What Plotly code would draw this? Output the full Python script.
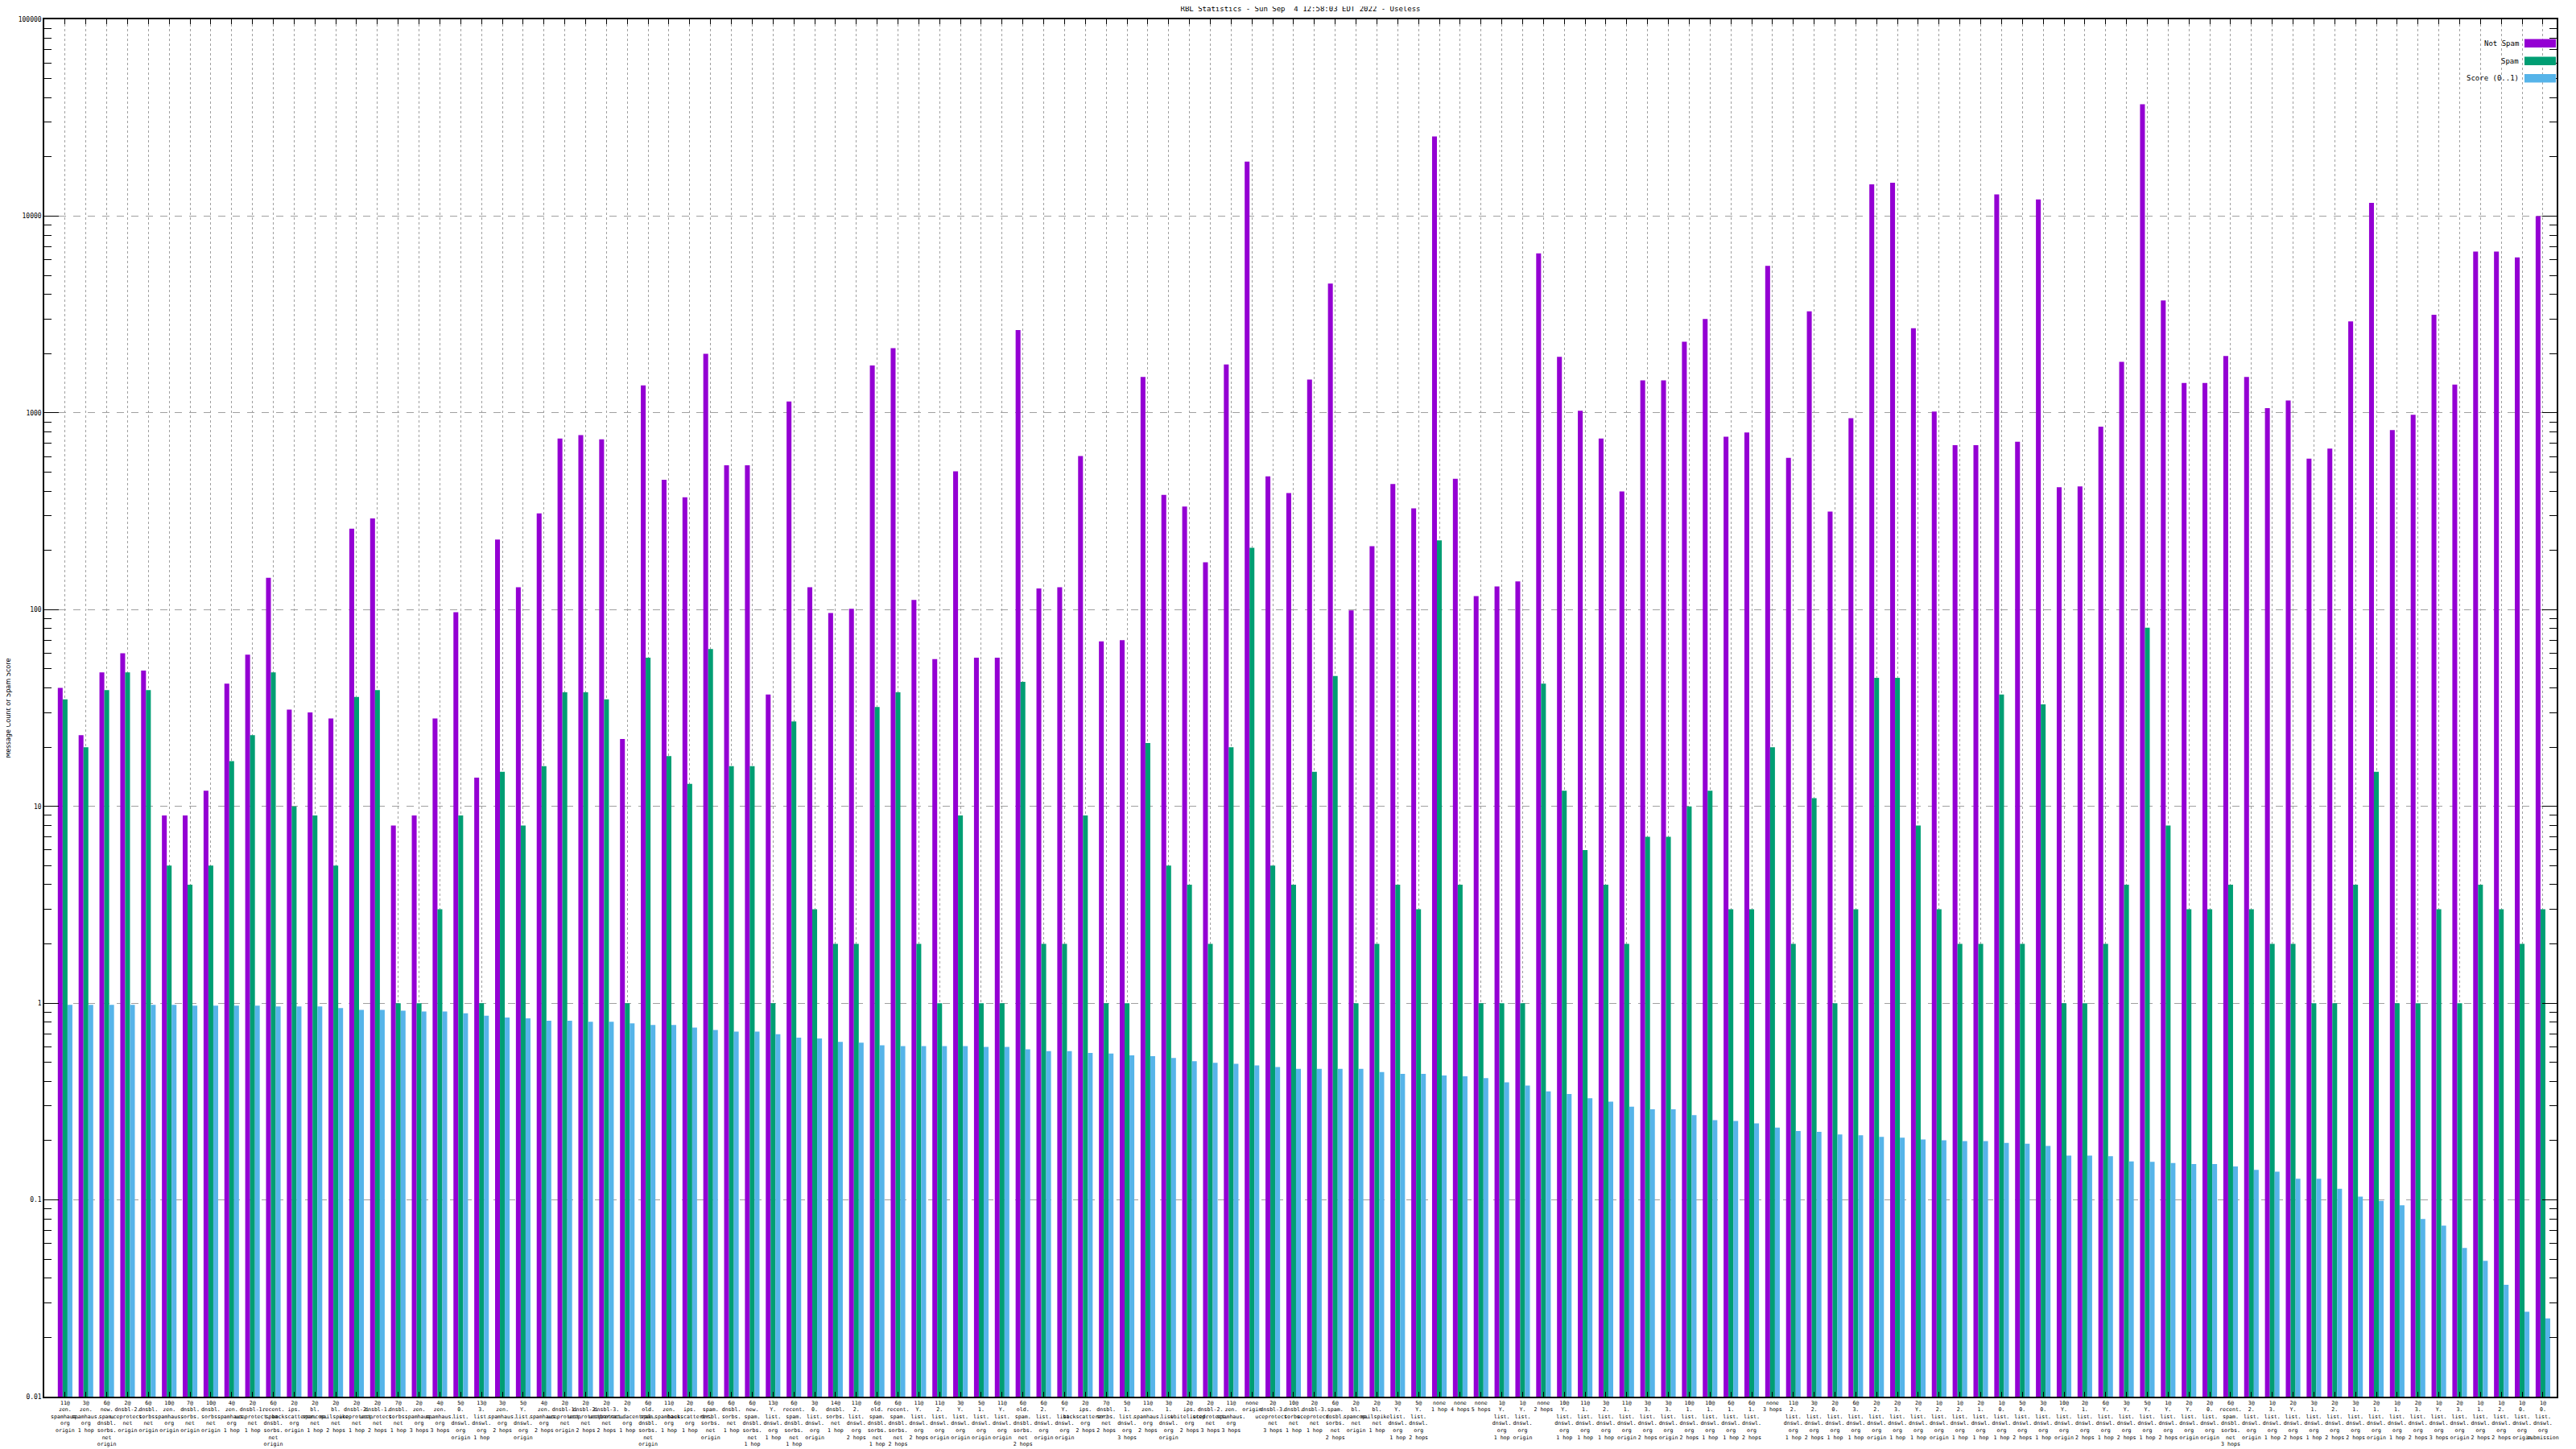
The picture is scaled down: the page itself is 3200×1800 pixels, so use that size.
import plotly.graph_objects as go

# ---------------- data ----------------
labels = [
    "11@\nzen.\nspamhaus.\norg\norigin", "3@\nzen.\nspamhaus.\norg\n1 hop",
    "6@\nnew.\nspam.\ndnsbl.\nsorbs.\nnet\norigin", "2@\ndnsbl-2.\nuceprotect.\nnet\norigin",
    "6@\ndnsbl.\nsorbs.\nnet\norigin", "10@\nzen.\nspamhaus.\norg\norigin",
    "7@\ndnsbl.\nsorbs.\nnet\norigin", "10@\ndnsbl.\nsorbs.\nnet\norigin",
    "4@\nzen.\nspamhaus.\norg\n1 hop", "2@\ndnsbl-1.\nuceprotect.\nnet\n1 hop",
    "6@\nrecent.\nspam.\ndnsbl.\nsorbs.\nnet\norigin", "2@\nips.\nbackscatterer.\norg\norigin",
    "2@\nbl.\nspamcop.\nnet\n1 hop", "2@\nbl.\nmailspike.\nnet\n2 hops",
    "2@\ndnsbl-2.\nuceprotect.\nnet\n1 hop", "2@\ndnsbl-1.\nuceprotect.\nnet\n2 hops",
    "7@\ndnsbl.\nsorbs.\nnet\n1 hop", "2@\nzen.\nspamhaus.\norg\n3 hops",
    "4@\nzen.\nspamhaus.\norg\n3 hops", "5@\n0.\nlist.\ndnswl.\norg\norigin",
    "13@\n3.\nlist.\ndnswl.\norg\n1 hop", "3@\nzen.\nspamhaus.\norg\n2 hops",
    "5@\nY.\nlist.\ndnswl.\norg\norigin", "4@\nzen.\nspamhaus.\norg\n2 hops",
    "2@\ndnsbl-1.\nuceprotect.\nnet\norigin", "2@\ndnsbl-2.\nuceprotect.\nnet\n2 hops",
    "2@\ndnsbl-3.\nuceprotect.\nnet\n2 hops", "2@\nb.\nbarracudacentral.\norg\n1 hop",
    "6@\nold.\nspam.\ndnsbl.\nsorbs.\nnet\norigin", "11@\nzen.\nspamhaus.\norg\n1 hop",
    "2@\nips.\nbackscatterer.\norg\n1 hop", "6@\nspam.\ndnsbl.\nsorbs.\nnet\norigin",
    "6@\ndnsbl.\nsorbs.\nnet\n1 hop", "6@\nnew.\nspam.\ndnsbl.\nsorbs.\nnet\n1 hop",
    "13@\nY.\nlist.\ndnswl.\norg\n1 hop", "6@\nrecent.\nspam.\ndnsbl.\nsorbs.\nnet\n1 hop",
    "3@\n0.\nlist.\ndnswl.\norg\norigin", "14@\ndnsbl.\nsorbs.\nnet\n1 hop",
    "11@\n2.\nlist.\ndnswl.\norg\n2 hops", "6@\nold.\nspam.\ndnsbl.\nsorbs.\nnet\n1 hop",
    "6@\nrecent.\nspam.\ndnsbl.\nsorbs.\nnet\n2 hops", "11@\nY.\nlist.\ndnswl.\norg\n2 hops",
    "11@\n2.\nlist.\ndnswl.\norg\norigin", "3@\nY.\nlist.\ndnswl.\norg\norigin",
    "5@\n1.\nlist.\ndnswl.\norg\norigin", "11@\nY.\nlist.\ndnswl.\norg\norigin",
    "6@\nold.\nspam.\ndnsbl.\nsorbs.\nnet\n2 hops", "6@\n2.\nlist.\ndnswl.\norg\norigin",
    "6@\nY.\nlist.\ndnswl.\norg\norigin", "2@\nips.\nbackscatterer.\norg\n2 hops",
    "7@\ndnsbl.\nsorbs.\nnet\n2 hops", "5@\n1.\nlist.\ndnswl.\norg\n3 hops",
    "11@\nzen.\nspamhaus.\norg\n2 hops", "3@\n1.\nlist.\ndnswl.\norg\norigin",
    "2@\nips.\nwhitelisted.\norg\n2 hops", "2@\ndnsbl-2.\nuceprotect.\nnet\n3 hops",
    "11@\nzen.\nspamhaus.\norg\n3 hops", "none\norigin",
    "2@\ndnsbl-3.\nuceprotect.\nnet\n3 hops", "10@\ndnsbl.\nsorbs.\nnet\n1 hop",
    "2@\ndnsbl-3.\nuceprotect.\nnet\n1 hop", "6@\nspam.\ndnsbl.\nsorbs.\nnet\n2 hops",
    "2@\nbl.\nspamcop.\nnet\norigin", "2@\nbl.\nmailspike.\nnet\n1 hop",
    "3@\nY.\nlist.\ndnswl.\norg\n1 hop", "5@\nY.\nlist.\ndnswl.\norg\n2 hops",
    "none\n1 hop", "none\n4 hops",
    "none\n5 hops", "1@\nY.\nlist.\ndnswl.\norg\n1 hop",
    "1@\nY.\nlist.\ndnswl.\norg\norigin", "none\n2 hops",
    "10@\nY.\nlist.\ndnswl.\norg\n1 hop", "11@\n1.\nlist.\ndnswl.\norg\n1 hop",
    "3@\n2.\nlist.\ndnswl.\norg\n1 hop", "11@\n1.\nlist.\ndnswl.\norg\norigin",
    "3@\n3.\nlist.\ndnswl.\norg\n2 hops", "3@\n3.\nlist.\ndnswl.\norg\norigin",
    "10@\n1.\nlist.\ndnswl.\norg\n2 hops", "10@\n1.\nlist.\ndnswl.\norg\n1 hop",
    "6@\n1.\nlist.\ndnswl.\norg\n1 hop", "6@\n1.\nlist.\ndnswl.\norg\n2 hops",
    "none\n3 hops", "11@\n2.\nlist.\ndnswl.\norg\n1 hop",
    "3@\n2.\nlist.\ndnswl.\norg\n2 hops", "2@\n0.\nlist.\ndnswl.\norg\n1 hop",
    "6@\n3.\nlist.\ndnswl.\norg\n1 hop", "2@\n2.\nlist.\ndnswl.\norg\norigin",
    "2@\n3.\nlist.\ndnswl.\norg\n1 hop", "2@\nY.\nlist.\ndnswl.\norg\n1 hop",
    "1@\n2.\nlist.\ndnswl.\norg\norigin", "1@\n2.\nlist.\ndnswl.\norg\n1 hop",
    "2@\n1.\nlist.\ndnswl.\norg\n1 hop", "1@\n0.\nlist.\ndnswl.\norg\n1 hop",
    "5@\n0.\nlist.\ndnswl.\norg\n2 hops", "3@\n0.\nlist.\ndnswl.\norg\n1 hop",
    "10@\nY.\nlist.\ndnswl.\norg\norigin", "2@\n1.\nlist.\ndnswl.\norg\n2 hops",
    "6@\nY.\nlist.\ndnswl.\norg\n1 hop", "3@\nY.\nlist.\ndnswl.\norg\n2 hops",
    "5@\nY.\nlist.\ndnswl.\norg\n1 hop", "1@\nY.\nlist.\ndnswl.\norg\n2 hops",
    "2@\nY.\nlist.\ndnswl.\norg\norigin", "2@\n0.\nlist.\ndnswl.\norg\norigin",
    "6@\nrecent.\nspam.\ndnsbl.\nsorbs.\nnet\n3 hops", "3@\n2.\nlist.\ndnswl.\norg\norigin",
    "1@\n3.\nlist.\ndnswl.\norg\n1 hop", "2@\nY.\nlist.\ndnswl.\norg\n2 hops",
    "3@\n1.\nlist.\ndnswl.\norg\n1 hop", "2@\n2.\nlist.\ndnswl.\norg\n2 hops",
    "3@\n1.\nlist.\ndnswl.\norg\n2 hops", "2@\n1.\nlist.\ndnswl.\norg\norigin",
    "1@\n1.\nlist.\ndnswl.\norg\n1 hop", "2@\n3.\nlist.\ndnswl.\norg\n2 hops",
    "1@\nY.\nlist.\ndnswl.\norg\n3 hops", "2@\n3.\nlist.\ndnswl.\norg\norigin",
    "1@\n1.\nlist.\ndnswl.\norg\n2 hops", "1@\n2.\nlist.\ndnswl.\norg\n2 hops",
    "1@\n0.\nlist.\ndnswl.\norg\norigin", "1@\n0.\nlist.\ndnswl.\norg\nsubmission",
]

not_spam = [
    40, 23, 48, 60, 49, 9, 9, 12, 42, 59,
    145, 31, 30, 28, 258, 291, 8, 9, 28, 97,
    14, 227, 130, 308, 741, 771, 734, 22, 1378, 457,
    372, 1997, 541, 541, 37, 1143, 130, 96, 101, 1742,
    2133, 112, 56, 505, 57, 57, 2637, 128, 130, 603,
    69, 70, 1521, 383, 334, 174, 1763, 18920, 476, 391,
    1477, 4540, 99, 210, 435, 327, 25420, 462, 117, 131,
    139, 6470, 1928, 1026, 741, 399, 1463, 1463, 2300, 3000,
    756, 795, 5580, 591, 3280, 315, 939, 14500, 14790, 2693,
    1016, 685, 685, 12890, 713, 12160, 419, 423, 851, 1816,
    37000, 3727, 1420, 1420, 1946, 1521, 1057, 1155, 585, 659,
    2914, 11680, 818, 977, 3155, 1392, 6600, 6600, 6160, 10000,
]

spam = [
    35, 20, 39, 48, 39, 5, 4, 5, 17, 23,
    48, 10, 9, 5, 36, 39, 1, 1, 3, 9,
    1, 15, 8, 16, 38, 38, 35, 1, 57, 18,
    13, 63, 16, 16, 1, 27, 3, 2, 2, 32,
    38, 2, 1, 9, 1, 1, 43, 2, 2, 9,
    1, 1, 21, 5, 4, 2, 20, 206, 5, 4,
    15, 46, 1, 2, 4, 3, 225, 4, 1, 1,
    1, 42, 12, 6, 4, 2, 7, 7, 10, 12,
    3, 3, 20, 2, 11, 1, 3, 45, 45, 8,
    3, 2, 2, 37, 2, 33, 1, 1, 2, 4,
    81, 8, 3, 3, 4, 3, 2, 2, 1, 1,
    4, 15, 1, 1, 3, 1, 4, 3, 2, 3,
]

score = [
    0.980, 0.980, 0.980, 0.980, 0.980, 0.980, 0.971, 0.971, 0.971, 0.971,
    0.961, 0.961, 0.961, 0.943, 0.924, 0.924, 0.915, 0.906, 0.906, 0.889,
    0.863, 0.846, 0.838, 0.813, 0.813, 0.805, 0.805, 0.790, 0.774, 0.774,
    0.751, 0.730, 0.716, 0.716, 0.695, 0.668, 0.661, 0.636, 0.630, 0.611,
    0.605, 0.605, 0.605, 0.605, 0.599, 0.599, 0.582, 0.570, 0.570, 0.559,
    0.554, 0.543, 0.538, 0.527, 0.507, 0.497, 0.492, 0.483, 0.473, 0.464,
    0.464, 0.464, 0.464, 0.446, 0.437, 0.437, 0.429, 0.425, 0.416, 0.396,
    0.381, 0.356, 0.345, 0.329, 0.316, 0.298, 0.289, 0.289, 0.270, 0.254,
    0.252, 0.245, 0.233, 0.224, 0.222, 0.215, 0.213, 0.209, 0.207, 0.203,
    0.201, 0.199, 0.199, 0.195, 0.193, 0.188, 0.168, 0.168, 0.167, 0.157,
    0.156, 0.154, 0.152, 0.152, 0.148, 0.142, 0.139, 0.128, 0.128, 0.114,
    0.104, 0.099, 0.094, 0.080, 0.074, 0.057, 0.049, 0.037, 0.027, 0.025,
]

series_names = ["Not Spam", "Spam", "Score (0..1)"]
series_colors = ["#9400D3", "#009E73", "#56B4E9"]
y_tick_vals = [0.01, 0.1, 1, 10, 100, 1000, 10000, 100000]
y_tick_text = ["0.01", "0.1", "1", "10", "100", "1000", "10000", "100000"]
title_text = "RBL Statistics - Sun Sep  4 12:58:03 EDT 2022 - Useless"
y_title = "Message Count or Spam Score"

# ---------------- figure ----------------
OFF = 8  # default page body margin in the browser
W, H = 3200 - OFF, 1800 - OFF
L, R, T, B = 55 - OFF, 24, 24 - OFF, 65
PW, PH = W - L - R, H - T - B

def px_x(p):  # page pixel -> paper x
    return (p - OFF - L) / PW

def px_y(p):  # page pixel -> paper y
    return (H - B - (p - OFF)) / PH

MONO = "DejaVu Sans Mono"
x = list(range(len(labels)))
tick_text = [s.replace("\n", "<br>") for s in labels]

fig = go.Figure()
for name, vals, col in zip(series_names, [not_spam, spam, score], series_colors):
    fig.add_trace(go.Bar(x=x, y=vals, name=name, marker=dict(color=col, line=dict(width=0)),
                         showlegend=False))

minor_vals = []
for e in range(-2, 5):
    for m in range(2, 10):
        minor_vals.append(m * 10 ** e)

fig.update_layout(
    width=W, height=H,
    margin=dict(l=L, r=R, t=T, b=B, autoexpand=False),
    paper_bgcolor="white", plot_bgcolor="white",
    barmode="group", bargap=0.3, bargroupgap=0.0,
    font=dict(family=MONO, size=9, color="black"),
    title=dict(text=title_text, x=0.5, xref="paper", y=1 - (11 - OFF) / H, yref="container",
               yanchor="middle", font=dict(family=MONO, size=9, color="black")),
    xaxis=dict(
        range=[-1.0, len(labels) - 1 + 0.66],
        tickmode="array", tickvals=x, ticktext=tick_text, tickangle=0,
        tickfont=dict(family=MONO, size=6.6, color="black"),
        ticks="inside", ticklen=6, tickcolor="black",
        showgrid=True, gridcolor="#a0a0a0", griddash="dot", gridwidth=1,
        showline=True, linecolor="black", linewidth=1.5, mirror="ticks",
        zeroline=False,
    ),
    yaxis=dict(
        type="log", range=[-2, 5],
        tickmode="array", tickvals=y_tick_vals, ticktext=y_tick_text,
        tickfont=dict(family=MONO, size=8, color="black"),
        ticks="inside", ticklen=18, tickcolor="black",
        minor=dict(tickmode="array", tickvals=minor_vals, ticks="inside", ticklen=9,
                   tickcolor="black", showgrid=False),
        showgrid=True, gridcolor="#a0a0a0", griddash="dash", gridwidth=1,
        showline=True, linecolor="black", linewidth=1.5, mirror="allticks",
        zeroline=False,
    ),
)

# y-axis title
fig.add_annotation(text=y_title, xref="paper", yref="paper", x=px_x(9), y=0.5,
                   textangle=-90, showarrow=False, xanchor="center", yanchor="middle",
                   font=dict(family="Liberation Sans Narrow, DejaVu Sans Condensed", size=9, color="black"))

# custom legend (gnuplot style: text right-aligned, swatch on the right)
legend_rows = [(48.5, 59), (70.5, 81), (92, 102.5)]
for (y0, y1), name, col in zip(legend_rows, series_names, series_colors):
    fig.add_shape(type="rect", xref="paper", yref="paper",
                  x0=px_x(3136), x1=px_x(3175), y0=px_y(y1), y1=px_y(y0),
                  fillcolor=col, line=dict(width=0), layer="above")
    fig.add_annotation(text=name, xref="paper", yref="paper", x=px_x(3131),
                       y=px_y((y0 + y1) / 2), xanchor="right", yanchor="middle",
                       showarrow=False, font=dict(family=MONO, size=9, color="black"))

fig.write_html("out.html")
